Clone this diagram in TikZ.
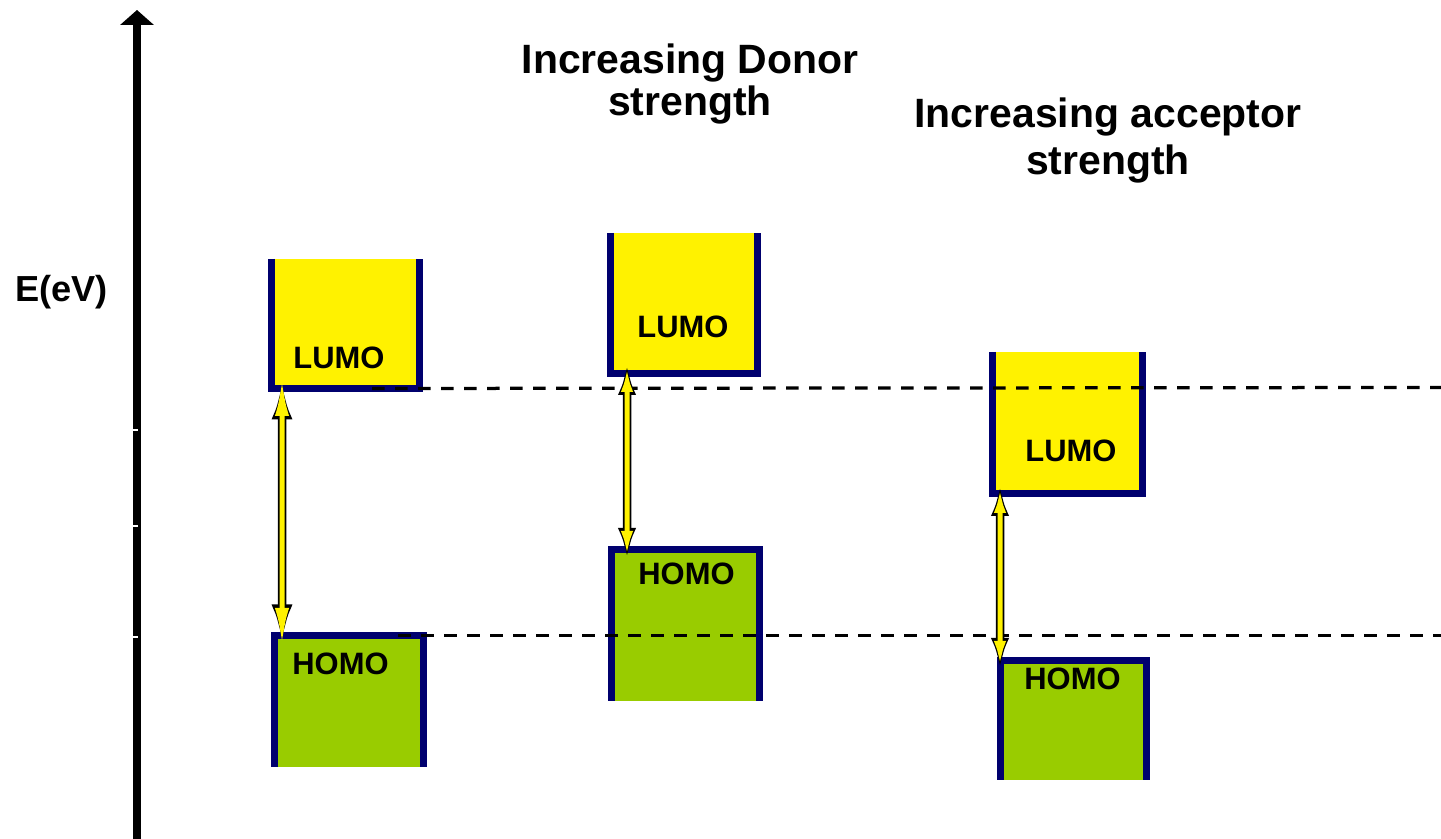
\documentclass[tikz,border=0pt]{standalone}
\usepackage{fontspec}
\setmainfont{Liberation Sans}
\usepackage{tikz}
\usetikzlibrary{arrows.meta,positioning}
\definecolor{navy}{RGB}{0,0,110}
\definecolor{homogreen}{RGB}{153,204,0}

\begin{document}
\begin{tikzpicture}[auto, >=latex]
\tikzstyle{lumo} = [fill=yellow, inner sep=0pt, outer sep=0pt]
\tikzstyle{homo} = [fill=homogreen, inner sep=0pt, outer sep=0pt]
\tikzstyle{rim} = [draw=navy, line width=0.155cm]
\tikzstyle{orbtext} = [inner sep=0pt, font=\bfseries\fontsize{17.6}{20}\selectfont]
\tikzstyle{heading} = [align=center, inner sep=0pt, anchor=north]
\tikzstyle{gapline} = [line width=0.065cm, dash pattern=on 0.25cm off 0.21cm]
\tikzstyle{gapback} = [draw=black, line width=0.17cm]
\tikzstyle{gapfront} = [draw=yellow, line width=0.1cm, shorten >=0.05cm, shorten <=0.05cm]

\useasboundingbox (0,0) rectangle (28.82,16.78);

% energy axis
\coordinate (axisfoot) at (2.74,0);
\coordinate (axistop) at (2.74,16.58);
\draw[-{Triangle[length=0.3cm,width=0.66cm]}, line width=0.146cm] (axisfoot) -- (axistop);
\foreach \ty in {8.18,6.26,4.04}
    \draw[white, line width=0.03cm] (2.66,\ty) -- (2.76,\ty);
\node[anchor=base west, inner sep=0pt, font=\bfseries\fontsize{20.6}{24}\selectfont] (energy) at (0.30,10.74) {E(eV)};

% the orbital boxes
\node[lumo, minimum width=2.96cm, minimum height=2.59cm] (lumoA) at (6.91,10.305) {};
\node[homo, minimum width=2.98cm, minimum height=2.63cm] (homoA) at (6.98,2.755) {};
\node[lumo, minimum width=2.94cm, minimum height=2.81cm] (lumoB) at (13.68,10.715) {};
\node[homo, minimum width=2.96cm, minimum height=3.03cm] (homoB) at (13.71,4.275) {};
\node[lumo, minimum width=3.00cm, minimum height=2.83cm] (lumoC) at (21.35,8.325) {};
\node[homo, minimum width=2.92cm, minimum height=2.39cm] (homoC) at (21.47,2.375) {};

\draw[rim] (lumoA.north west) |- (lumoA.south east) -- (lumoA.north east);
\draw[rim] (lumoB.north west) |- (lumoB.south east) -- (lumoB.north east);
\draw[rim] (lumoC.north west) |- (lumoC.south east) -- (lumoC.north east);
\draw[rim] (homoA.south west) |- (homoA.north east) -- (homoA.south east);
\draw[rim] (homoB.south west) |- (homoB.north east) -- (homoB.south east);
\draw[rim] (homoC.south west) |- (homoC.north east) -- (homoC.south east);

\node[orbtext] (lumoAtext) at (6.78,9.62) {LUMO};
\node[orbtext] (homoAtext) at (6.81,3.51) {HOMO};
\node[orbtext] (lumoBtext) at (13.66,10.25) {LUMO};
\node[orbtext] (homoBtext) at (13.73,5.31) {HOMO};
\node[orbtext] (lumoCtext) at (21.42,7.76) {LUMO};
\node[orbtext] (homoCtext) at (21.45,3.21) {HOMO};

% reference levels
\coordinate (lumoend) at (28.82,9.03);
\coordinate (homoend) at (28.82,4.07);
\draw[gapline] ([xshift=0.53cm]lumoA.south) -- (lumoend);
\draw[gapline] ([xshift=0.98cm]homoA.north) -- (homoend);

% band gaps
\draw[gapback, {Latex[length=0.9cm,width=0.4cm]}-{Latex[length=0.9cm,width=0.4cm]}]
    ([xshift=0.21cm,yshift=0.28cm]lumoA.south west) -- ([xshift=0.15cm,yshift=-0.28cm]homoA.north west);
\draw[gapfront, {Latex[length=0.78cm,width=0.28cm]}-{Latex[length=0.78cm,width=0.28cm]}]
    ([xshift=0.21cm,yshift=0.28cm]lumoA.south west) -- ([xshift=0.15cm,yshift=-0.28cm]homoA.north west);
\draw[gapback, {Latex[length=0.65cm,width=0.36cm]}-{Latex[length=0.65cm,width=0.36cm]}]
    ([xshift=0.33cm,yshift=0.22cm]lumoB.south west) -- ([xshift=0.31cm,yshift=-0.22cm]homoB.north west);
\draw[gapfront, {Latex[length=0.54cm,width=0.24cm]}-{Latex[length=0.54cm,width=0.24cm]}]
    ([xshift=0.33cm,yshift=0.22cm]lumoB.south west) -- ([xshift=0.31cm,yshift=-0.22cm]homoB.north west);
\draw[gapback, {Latex[length=0.65cm,width=0.36cm]}-{Latex[length=0.65cm,width=0.36cm]}]
    ([xshift=0.15cm,yshift=0.2cm]lumoC.south west) -- ([xshift=-0.01cm,yshift=-0.2cm]homoC.north west);
\draw[gapfront, {Latex[length=0.54cm,width=0.24cm]}-{Latex[length=0.54cm,width=0.24cm]}]
    ([xshift=0.15cm,yshift=0.2cm]lumoC.south west) -- ([xshift=-0.01cm,yshift=-0.2cm]homoC.north west);

% headings
\node[heading, font=\bfseries\fontsize{23.3}{24.4}\selectfont] (donor) at (13.80,15.92) {Increasing Donor\\strength};
\node[heading, font=\bfseries\fontsize{23.3}{27.0}\selectfont] (acceptor) at (22.16,14.84) {Increasing acceptor\\strength};

\end{tikzpicture}
\end{document}
